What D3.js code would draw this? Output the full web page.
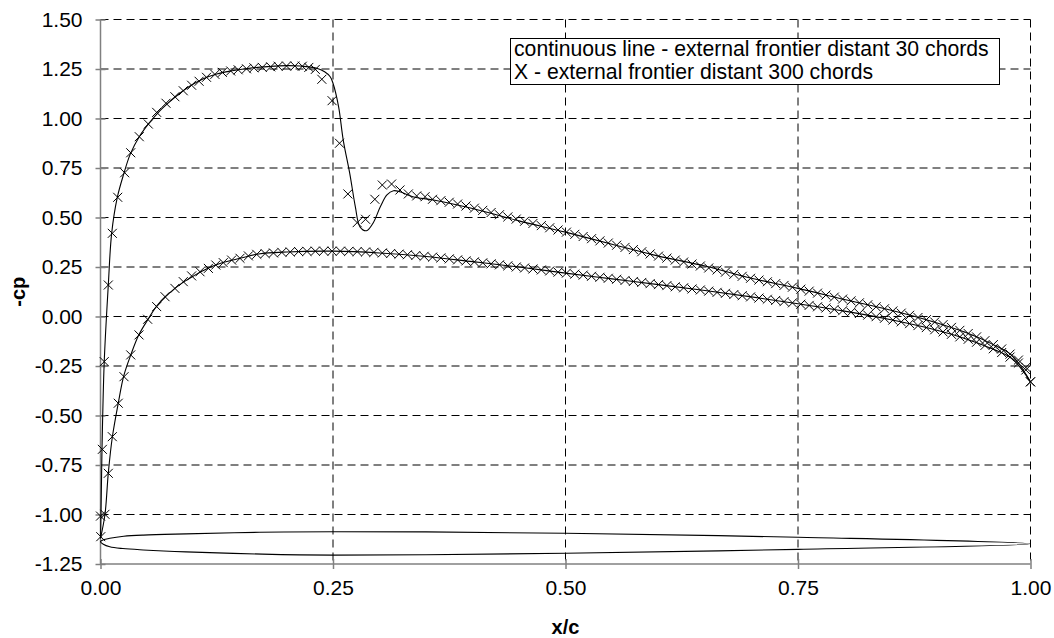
<!DOCTYPE html>
<html>
<head>
<meta charset="utf-8">
<script src="https://cdn.jsdelivr.net/npm/d3@7"></script>
<style>
  body { margin: 0; background: #fff; }
  svg { font-family: "Liberation Sans", Arial, sans-serif; }
</style>
</head>
<body>
<svg id="chart" width="1054" height="638"></svg>
<script>
// tick values
var xTicks = [0, 0.25, 0.5, 0.75, 1.0];
var yTicks = [-1.25, -1.0, -0.75, -0.5, -0.25, 0, 0.25, 0.5, 0.75, 1.0, 1.25, 1.5];

var legendLines = ["continuous line - external frontier distant 30 chords",
                   "X - external frontier distant 300 chords"];

// continuous line (30 chords) - upper surface [x/c, -cp]
var upperLine = [[0,-1.12],[0.0005,-1.0],[0.0015,-0.7],[0.004,-0.23],[0.0084,0.16],[0.012,0.42],
  [0.018,0.6],[0.025,0.72],[0.032,0.82],[0.042,0.91],[0.052,0.975],[0.062,1.03],[0.072,1.075],
  [0.082,1.115],[0.095,1.16],[0.11,1.2],[0.125,1.225],[0.14,1.24],[0.16,1.254],[0.18,1.262],
  [0.2,1.267],[0.215,1.265],[0.2325,1.254],[0.241,1.236],[0.247,1.211],[0.25,1.178],[0.256,1.06],
  [0.261,0.891],[0.268,0.723],[0.274,0.555],[0.279,0.453],[0.286,0.433],[0.293,0.471],[0.301,0.555],
  [0.308,0.614],[0.315,0.635],[0.322,0.63],[0.336,0.605],[0.358,0.588],[0.4,0.545],[0.45,0.483],
  [0.5,0.426],[0.55,0.365],[0.6,0.305],[0.65,0.255],[0.7,0.193],[0.75,0.142],[0.8,0.086],
  [0.85,0.032],[0.888,-0.016],[0.93,-0.08],[0.96,-0.142],[0.98,-0.196],[1.0,-0.33]];

// continuous line (30 chords) - lower surface
var lowerLine = [[0,-1.12],[0.0048,-1.0],[0.0084,-0.79],[0.0127,-0.61],[0.019,-0.44],[0.025,-0.3],
  [0.0325,-0.195],[0.041,-0.095],[0.051,-0.015],[0.06,0.05],[0.07,0.1],[0.08,0.142],[0.09,0.176],
  [0.1,0.205],[0.115,0.243],[0.13,0.27],[0.15,0.294],[0.17,0.316],[0.2,0.326],[0.25,0.33],
  [0.3,0.321],[0.35,0.303],[0.4,0.277],[0.45,0.25],[0.5,0.219],[0.55,0.19],[0.6,0.161],
  [0.65,0.131],[0.7,0.099],[0.75,0.064],[0.8,0.027],[0.85,-0.016],[0.888,-0.056],[0.93,-0.112],
  [0.96,-0.165],[0.98,-0.212],[1.0,-0.33]];

// X markers (300 chords) - upper surface
var upperMarks = [[0.0003,-1.112],[0,-1.008],[0.002,-0.671],[0.004,-0.228],[0.0084,0.159],
  [0.0127,0.42],[0.0185,0.602],[0.026,0.726],[0.0325,0.827],[0.0417,0.908],[0.0514,0.972],
  [0.0604,1.031],[0.0704,1.077],[0.08,1.11],[0.089,1.14],[0.098,1.168],[0.106,1.188],[0.114,1.208],
  [0.123,1.223],[0.131,1.233],[0.14,1.24],[0.148,1.246],[0.157,1.251],[0.165,1.256],[0.174,1.258],
  [0.183,1.261],[0.191,1.264],[0.2,1.265],[0.209,1.265],[0.217,1.264],[0.224,1.258],[0.231,1.248],
  [0.238,1.198],[0.249,1.09],[0.257,0.875],[0.266,0.619],[0.276,0.474],[0.285,0.491],[0.295,0.592],
  [0.303,0.664],[0.313,0.669],[0.322,0.639],[0.331,0.619],[0.34,0.609],[0.349,0.605],[0.357,0.592],
  [0.366,0.585],[0.375,0.577],[0.384,0.568],[0.393,0.558],[0.402,0.547],[0.411,0.536],[0.42,0.525],
  [0.429,0.514],[0.438,0.503],[0.447,0.492],[0.456,0.481],[0.465,0.47],[0.474,0.459],[0.483,0.448],
  [0.492,0.437],[0.501,0.426],[0.51,0.415],[0.519,0.404],[0.528,0.393],[0.537,0.382],[0.546,0.371],
  [0.555,0.36],[0.564,0.349],[0.573,0.338],[0.582,0.327],[0.591,0.316],[0.6,0.305],[0.609,0.295],
  [0.618,0.285],[0.627,0.275],[0.636,0.265],[0.645,0.255],[0.654,0.245],[0.663,0.235],[0.672,0.224],
  [0.681,0.213],[0.69,0.203],[0.699,0.193],[0.708,0.184],[0.717,0.175],[0.726,0.166],[0.735,0.157],
  [0.744,0.148],[0.753,0.138],[0.762,0.128],[0.771,0.118],[0.78,0.108],[0.789,0.098],[0.798,0.088],
  [0.807,0.079],[0.816,0.069],[0.825,0.059],[0.834,0.049],[0.843,0.039],[0.852,0.028],[0.861,0.017],
  [0.87,0.006],[0.879,-0.005],[0.888,-0.016],[0.897,-0.028],[0.906,-0.041],[0.915,-0.055],
  [0.924,-0.07],[0.933,-0.086],[0.942,-0.103],[0.951,-0.122],[0.96,-0.142],[0.969,-0.164],
  [0.978,-0.19],[0.987,-0.22],[0.995,-0.257],[1.0,-0.33]];

// X markers (300 chords) - lower surface
var lowerMarks = [[0.0048,-0.999],[0.0084,-0.792],[0.0127,-0.607],[0.0191,-0.438],[0.0253,-0.304],
  [0.0325,-0.194],[0.0414,-0.093],[0.0507,-0.014],[0.0604,0.05],[0.0694,0.1],[0.08,0.142],
  [0.089,0.176],[0.098,0.205],[0.107,0.226],[0.116,0.243],[0.124,0.26],[0.132,0.272],[0.141,0.285],
  [0.15,0.294],[0.159,0.306],[0.168,0.314],[0.177,0.318],[0.186,0.321],[0.195,0.324],[0.204,0.326],
  [0.213,0.328],[0.222,0.329],[0.231,0.33],[0.24,0.33],[0.249,0.33],[0.258,0.33],[0.267,0.329],
  [0.276,0.328],[0.285,0.326],[0.294,0.324],[0.303,0.321],[0.312,0.318],[0.321,0.315],[0.33,0.312],
  [0.339,0.308],[0.348,0.304],[0.357,0.3],[0.366,0.296],[0.375,0.291],[0.384,0.286],[0.393,0.281],
  [0.402,0.276],[0.411,0.271],[0.42,0.266],[0.429,0.261],[0.438,0.256],[0.447,0.25],[0.456,0.245],
  [0.465,0.24],[0.474,0.235],[0.483,0.23],[0.492,0.224],[0.501,0.219],[0.51,0.214],[0.519,0.209],
  [0.528,0.203],[0.537,0.198],[0.546,0.193],[0.555,0.188],[0.564,0.182],[0.573,0.177],[0.582,0.172],
  [0.591,0.166],[0.6,0.161],[0.609,0.156],[0.618,0.15],[0.627,0.145],[0.636,0.139],[0.645,0.134],
  [0.654,0.128],[0.663,0.122],[0.672,0.117],[0.681,0.111],[0.69,0.105],[0.699,0.099],[0.708,0.093],
  [0.717,0.087],[0.726,0.081],[0.735,0.075],[0.744,0.069],[0.753,0.062],[0.762,0.056],[0.771,0.049],
  [0.78,0.043],[0.789,0.036],[0.798,0.029],[0.807,0.022],[0.816,0.015],[0.825,0.007],[0.834,-0.001],
  [0.843,-0.009],[0.852,-0.018],[0.861,-0.027],[0.87,-0.036],[0.879,-0.046],[0.888,-0.056],
  [0.897,-0.067],[0.906,-0.078],[0.915,-0.09],[0.924,-0.103],[0.933,-0.115],[0.942,-0.13],
  [0.951,-0.146],[0.96,-0.163],[0.969,-0.182],[0.978,-0.205],[0.987,-0.235],[0.995,-0.27],[1.0,-0.33]];

// airfoil outline drawn in the cp frame
var airfoilUpper = [[0,-1.137],[0.003,-1.128],[0.01,-1.12],[0.025,-1.11],[0.046,-1.104],[0.092,-1.098],
  [0.171,-1.09],[0.25,-1.087],[0.35,-1.088],[0.5,-1.095],[0.75,-1.115],[1.0,-1.148]];
var airfoilLower = [[0,-1.137],[0.003,-1.15],[0.01,-1.163],[0.024,-1.172],[0.046,-1.179],[0.092,-1.189],
  [0.174,-1.2],[0.25,-1.205],[0.35,-1.203],[0.5,-1.196],[0.75,-1.176],[1.0,-1.148]];

(function() {
var svg = d3.select("#chart");
var plotLeft = 100.5, plotRight = 1030.5, plotTop = 19.5, plotBottom = 564;

var x = d3.scaleLinear().domain([0, 1]).range([plotLeft, plotRight]);
var y = d3.scaleLinear().domain([-1.25, 1.5]).range([plotBottom, plotTop]);

// gridlines
var grid = svg.append("g").attr("stroke", "#000").attr("stroke-width", 1).attr("stroke-dasharray", "8,5");
grid.selectAll("line.h")
  .data(yTicks.filter(function(d) { return d > -1.25; }))
  .enter().append("line")
    .attr("x1", plotLeft).attr("x2", plotRight)
    .attr("y1", function(d) { return y(d); })
    .attr("y2", function(d) { return y(d); });
grid.selectAll("line.v")
  .data(xTicks.filter(function(d) { return d > 0; }))
  .enter().append("line")
    .attr("y1", plotTop).attr("y2", plotBottom)
    .attr("x1", function(d) { return x(d); })
    .attr("x2", function(d) { return x(d); });

// axes
var fmt = function(d) { return d.toFixed(2); };
var yAxis = svg.append("g")
  .attr("transform", "translate(" + plotLeft + ",0)")
  .call(d3.axisLeft(y).tickValues(yTicks).tickFormat(fmt).tickSize(5).tickPadding(13));
var xAxis = svg.append("g")
  .attr("transform", "translate(0," + plotBottom + ")")
  .call(d3.axisBottom(x).tickValues(xTicks).tickFormat(fmt).tickSize(5).tickPadding(11));

[yAxis, xAxis].forEach(function(ax) {
  ax.select(".domain").attr("stroke", "#808080").attr("stroke-width", 1.5);
  ax.selectAll(".tick line").attr("stroke", "#808080").attr("stroke-width", 1.5);
  ax.selectAll("text").attr("fill", "#000").style("font-size", "21px")
    .style("font-family", "'Liberation Sans', Arial, sans-serif");
});
yAxis.selectAll(".tick line").attr("x1", 5);
xAxis.selectAll(".tick line").attr("y1", -5);
yAxis.select(".domain").attr("d", "M0," + plotBottom + "V" + plotTop);
xAxis.select(".domain").attr("d", "M" + plotLeft + ",0H" + plotRight);

// axis titles
svg.append("text")
  .attr("transform", "translate(25," + ((plotTop + plotBottom) / 2) + ") rotate(-90)")
  .attr("text-anchor", "middle")
  .style("font-size", "20px").style("font-weight", "bold")
  .text("-cp");
svg.append("text")
  .attr("x", (plotLeft + plotRight) / 2).attr("y", 634)
  .attr("text-anchor", "middle")
  .style("font-size", "20px").style("font-weight", "bold")
  .text("x/c");

// series
var line = d3.line()
  .x(function(d) { return x(d[0]); })
  .y(function(d) { return y(d[1]); })
  .curve(d3.curveCatmullRom.alpha(0.5));

var plot = svg.append("g");
[upperLine, lowerLine].forEach(function(s) {
  plot.append("path").datum(s)
    .attr("d", line)
    .attr("fill", "none").attr("stroke", "#000").attr("stroke-width", 1.1);
});

plot.append("path")
  .datum(airfoilUpper.concat(airfoilLower.slice(1, -1).reverse()))
  .attr("d", d3.line().x(function(d) { return x(d[0]); }).y(function(d) { return y(d[1]); })
    .curve(d3.curveCatmullRomClosed.alpha(0.5)))
  .attr("fill", "none").attr("stroke", "#000").attr("stroke-width", 1.1);

var m = 4.5;
plot.selectAll("path.mark")
  .data(upperMarks.concat(lowerMarks))
  .enter().append("path")
    .attr("class", "mark")
    .attr("d", function(d) {
      var cx = x(d[0]), cy = y(d[1]);
      return "M" + (cx - m) + "," + (cy - m) + "L" + (cx + m) + "," + (cy + m) +
             "M" + (cx - m) + "," + (cy + m) + "L" + (cx + m) + "," + (cy - m);
    })
    .attr("fill", "none").attr("stroke", "#000").attr("stroke-width", 1);

// legend
var lg = svg.append("g");
lg.append("rect")
  .attr("x", 510.5).attr("y", 38.5).attr("width", 489).attr("height", 46)
  .attr("fill", "#fff").attr("stroke", "#000").attr("stroke-width", 1);
lg.selectAll("text")
  .data(legendLines)
  .enter().append("text")
    .attr("x", 514)
    .attr("y", function(d, i) { return 56 + i * 23; })
    .style("font-size", "21.2px")
    .text(function(d) { return d; });
})();
</script>
</body>
</html>
